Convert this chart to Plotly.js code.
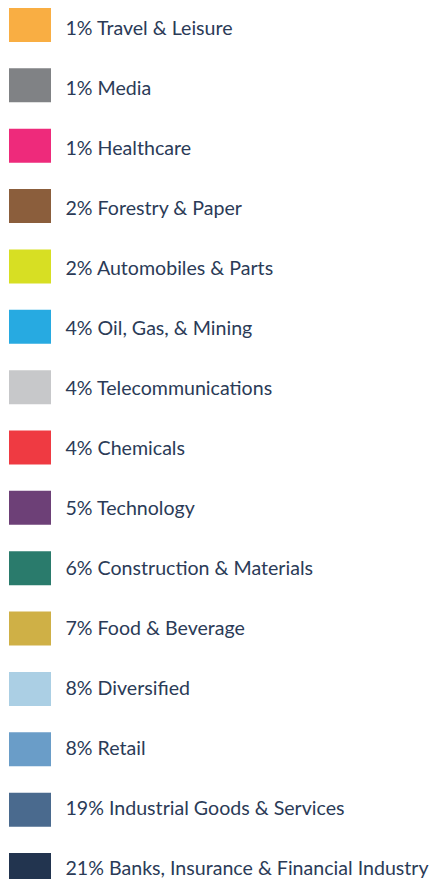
<!DOCTYPE html>
<html>
<head>
<meta charset="utf-8">
<script src="https://cdn.plot.ly/plotly-3.0.1.min.js"></script>
<style>
  html, body { margin: 0; padding: 0; background: #ffffff; }
  #chart { width: 432px; height: 879px; }
</style>
</head>
<body>
<div id="chart"></div>
<script>
// Sectors, in the order shown (top to bottom)
const sectors = [
  "Travel & Leisure",
  "Media",
  "Healthcare",
  "Forestry & Paper",
  "Automobiles & Parts",
  "Oil, Gas, & Mining",
  "Telecommunications",
  "Chemicals",
  "Technology",
  "Construction & Materials",
  "Food & Beverage",
  "Diversified",
  "Retail",
  "Industrial Goods & Services",
  "Banks, Insurance & Financial Industry"
];
const shares = [1, 1, 1, 2, 2, 4, 4, 4, 5, 6, 7, 8, 8, 19, 21];
const colors = [
  "#F9AE43", "#808285", "#EE2A7B", "#8B5E3C", "#D7DF23",
  "#27AAE1", "#C7C8CA", "#EF3A42", "#6D4077", "#2A7B6C",
  "#CFB046", "#ABCFE4", "#6A9DC8", "#4A6A8E", "#22344F"
];

const labels = sectors.map((s, i) => shares[i] + "% " + s);

(function () {
  // swatch geometry (style, in axis pixels)
  const swatchStart = 9, swatchWidth = 42, textStart = 65.5;

  const swatches = {
    type: "bar",
    orientation: "h",
    y: sectors,
    x: sectors.map(() => swatchWidth),
    base: swatchStart,
    marker: { color: colors, line: { width: 0 } },
    hoverinfo: "skip",
    showlegend: false
  };

  const texts = {
    type: "scatter",
    mode: "text",
    y: sectors,
    x: sectors.map(() => textStart),
    text: labels,
    textposition: "middle right",
    textfont: { family: "Lato, 'Open Sans', sans-serif", size: 19.6, color: "#2B3B57" },
    cliponaxis: false,
    hoverinfo: "skip",
    showlegend: false,
    yaxis: "y2"
  };

  // swatch rows: centres at 25 + pitch*i px
  const rowPitch = (870 - 25) / 14;
  // text rows
  const textPitch = 60, textFirst = 30;

  const layout = {
    width: 432,
    height: 879,
    margin: { l: 0, r: 0, t: 0, b: 0, pad: 0 },
    paper_bgcolor: "#ffffff",
    plot_bgcolor: "#ffffff",
    bargap: 1 - 34 / rowPitch,
    xaxis: { range: [0, 432], visible: false, fixedrange: true },
    yaxis: {
      type: "category",
      categoryorder: "array",
      categoryarray: sectors,
      range: [(879 - 25) / rowPitch, -25 / rowPitch],
      visible: false,
      fixedrange: true
    },
    yaxis2: {
      type: "category",
      categoryorder: "array",
      categoryarray: sectors,
      range: [(879 - textFirst) / textPitch, -textFirst / textPitch],
      overlaying: "y",
      visible: false,
      fixedrange: true
    },
    showlegend: false
  };

  Plotly.newPlot("chart", [swatches, texts], layout, { displayModeBar: false, staticPlot: true });
})();
</script>
</body>
</html>
